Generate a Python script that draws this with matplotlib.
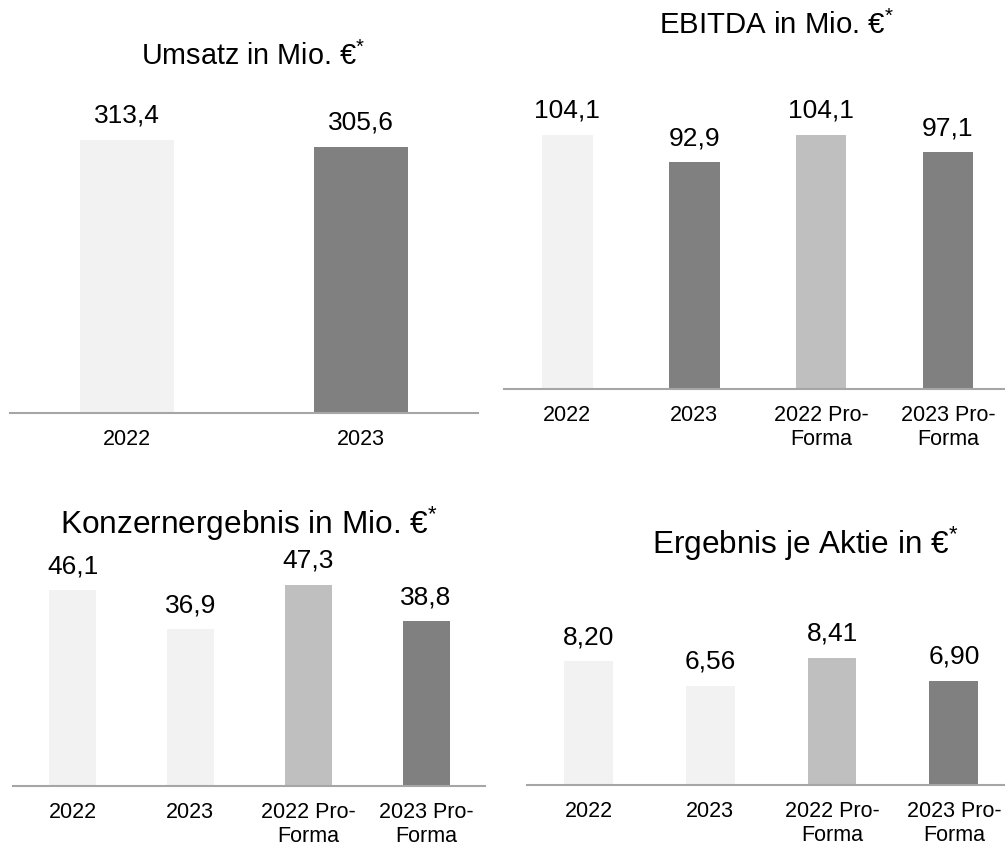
import matplotlib
matplotlib.use("Agg")
import matplotlib.pyplot as plt

plt.rcParams['font.family'] = ['Liberation Sans', 'DejaVu Sans']
plt.rcParams['mathtext.fontset'] = 'custom'
plt.rcParams['mathtext.rm'] = 'Liberation Sans'
plt.rcParams['mathtext.it'] = 'Liberation Sans'

# data
umsatz_labels = ['2022', '2023']
umsatz_values = [313.4, 305.6]
umsatz_text = ['313,4', '305,6']

four_labels = ['2022', '2023', '2022 Pro-\nForma', '2023 Pro-\nForma']

ebitda_values = [104.1, 92.9, 104.1, 97.1]
ebitda_text = ['104,1', '92,9', '104,1', '97,1']

konzern_values = [46.1, 36.9, 47.3, 38.8]
konzern_text = ['46,1', '36,9', '47,3', '38,8']

eps_values = [8.20, 6.56, 8.41, 6.90]
eps_text = ['8,20', '6,56', '8,41', '6,90']

LIGHT = '#f2f2f2'
MID = '#bfbfbf'
DARK = '#808080'

W, H = 1005, 845
fig = plt.figure(figsize=(W / 100, H / 100), dpi=100)


def make_axes(x0, x1, y_top, y_bottom):
    # pixel box -> figure fraction
    return fig.add_axes([x0 / W, 1 - y_bottom / H, (x1 - x0) / W, (y_bottom - y_top) / H])


def draw_panel(ax, labels, values, texts, colors, xlim, ymax):
    x = list(range(len(values)))
    ax.bar(x, values, width=0.40, color=colors)
    for xi, v, t in zip(x, values, texts):
        ax.annotate(t, (xi, v), xytext=(0, 13), textcoords='offset points',
                    ha='center', va='baseline', fontsize=19)
    ax.set_xlim(*xlim)
    ax.set_ylim(0, ymax)
    ax.set_xticks(x)
    ax.set_xticklabels(labels, fontsize=15.5, linespacing=1.15)
    ax.tick_params(axis='x', length=0, pad=11)
    ax.set_yticks([])
    for s in ['top', 'left', 'right']:
        ax.spines[s].set_visible(False)
    ax.spines['bottom'].set_color('#a6a6a6')
    ax.spines['bottom'].set_linewidth(1.5)
    ax.patch.set_alpha(0)


# Umsatz
ax1 = make_axes(10, 478, 100, 414)
draw_panel(ax1, umsatz_labels, umsatz_values, umsatz_text, [LIGHT, DARK],
           (-0.5, 1.5), 314 / 0.8715)

# EBITDA
ax2 = make_axes(504, 1005, 100, 390)
draw_panel(ax2, four_labels, ebitda_values, ebitda_text, [LIGHT, DARK, MID, DARK],
           (-0.5, 3.45), 290 / 2.44)

# Konzernergebnis
ax3 = make_axes(13, 485, 560, 787)
draw_panel(ax3, four_labels, konzern_values, konzern_text, [LIGHT, LIGHT, MID, DARK],
           (-0.505, 3.50), 227 / 4.25)

# Ergebnis je Aktie
ax4 = make_axes(527, 1005, 600, 786)
draw_panel(ax4, four_labels, eps_values, eps_text, [LIGHT, LIGHT, MID, DARK],
           (-0.505, 3.42), 186 / 15.1)

# titles
titles = [
    ('Umsatz in Mio. €$^{*}$', 253, 65, 20.7),
    ('EBITDA in Mio. €$^{*}$', 777, 34, 21.2),
    ('Konzernergebnis in Mio. €$^{*}$', 249, 534, 22.8),
    ('Ergebnis je Aktie in €$^{*}$', 805, 554, 22.7),
]
for t, xp, yp, fs in titles:
    fig.text(xp / W, 1 - yp / H, t, ha='center', va='baseline', fontsize=fs)

fig.savefig('out.png', dpi=100)
